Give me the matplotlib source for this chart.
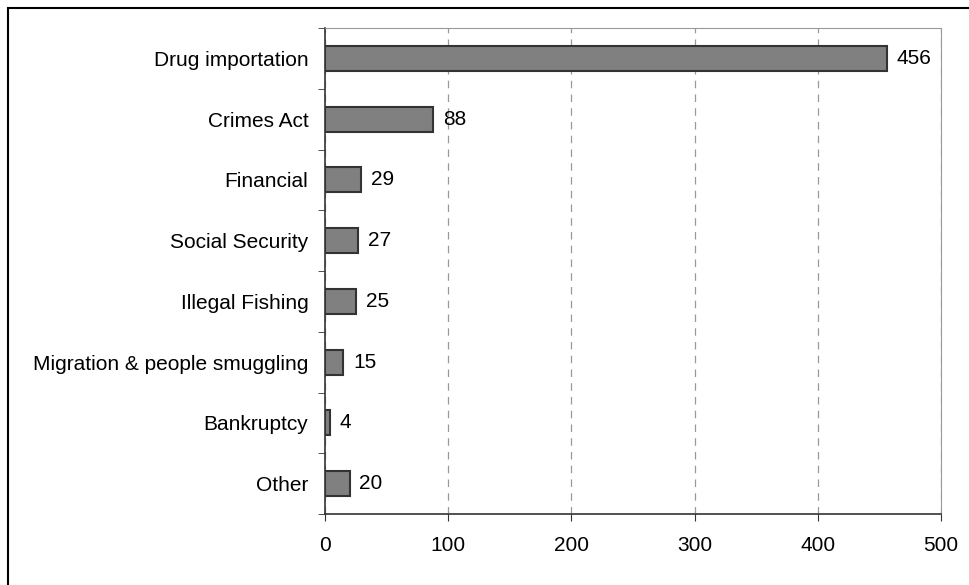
import matplotlib.pyplot as plt
from matplotlib.patches import Rectangle

categories = ['Drug importation', 'Crimes Act', 'Financial', 'Social Security',
              'Illegal Fishing', 'Migration & people smuggling', 'Bankruptcy', 'Other']
values = [456, 88, 29, 27, 25, 15, 4, 20]
xticks = [0, 100, 200, 300, 400, 500]

plt.rcParams['font.family'] = ['Liberation Sans', 'DejaVu Sans']

fig = plt.figure(figsize=(9.69, 5.85), dpi=100)
ax = fig.add_axes([325 / 969, 1 - 514 / 585, (941 - 325) / 969, (514 - 28) / 585])

# outer frame of the figure (cut off at right and bottom like the source)
fig.patches.append(Rectangle((8 / 969, -0.1), 1.2, 1.1 - 8 / 585, transform=fig.transFigure,
                             fill=False, edgecolor='black', linewidth=1.5))

pos = list(range(len(categories)))
ax.barh(pos, values, height=0.41, color='#808080', edgecolor='#333333', linewidth=1.5, zorder=3)
for p, v in zip(pos, values):
    ax.text(v + 8, p, str(v), va='center', ha='left', fontsize=15)

ax.set_xlim(0, 500)
ax.set_ylim(len(categories) - 0.5, -0.5)
ax.set_xticks(xticks)
ax.set_yticks(pos)
ax.set_yticklabels(categories)
ax.set_yticks([i - 0.5 for i in range(len(categories) + 1)], minor=True)
ax.tick_params(axis='y', which='major', length=0, pad=12, labelsize=15)
ax.tick_params(axis='y', which='minor', length=5, color='#333333')
ax.tick_params(axis='x', length=5, color='#333333', pad=11, labelsize=15)

ax.grid(axis='x', linestyle=(0, (6, 5)), color='#999999', linewidth=0.9, zorder=0)
for s in ['top', 'right']:
    ax.spines[s].set_color('#999999')
for s in ['left', 'bottom']:
    ax.spines[s].set_color('#333333')
    ax.spines[s].set_linewidth(1.2)

plt.savefig('out.png', dpi=100)
